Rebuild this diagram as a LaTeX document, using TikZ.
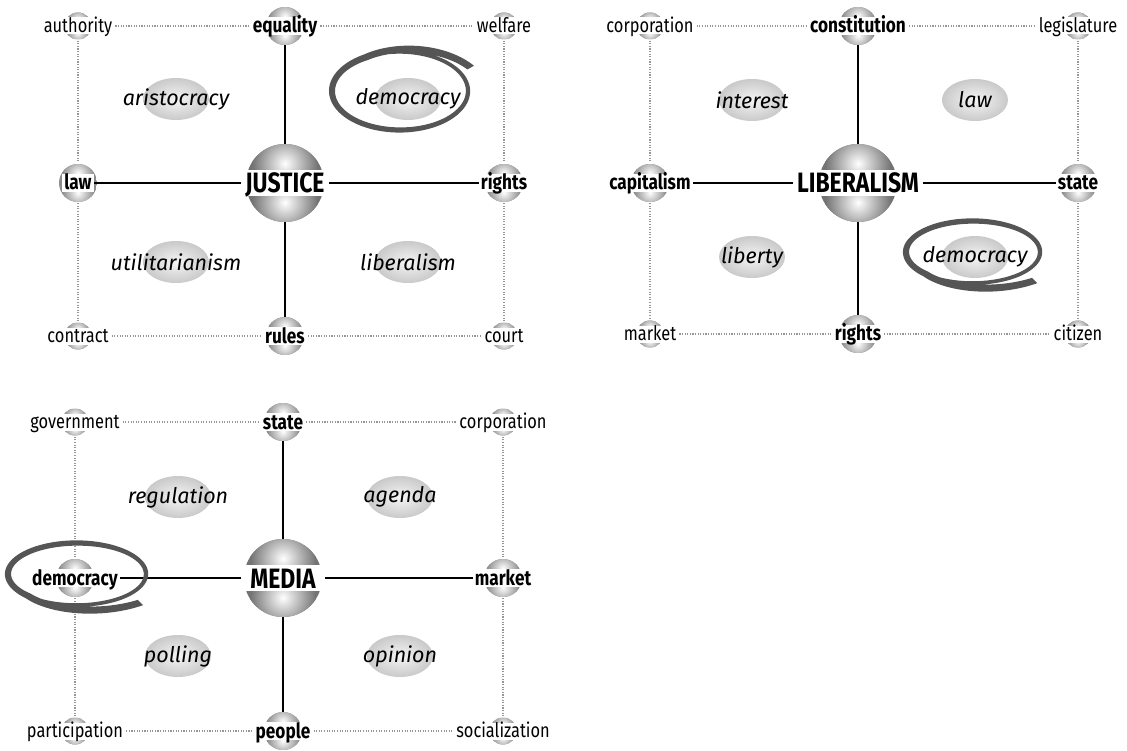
\documentclass[tikz,border=0pt]{standalone}
\usepackage{fontspec}
\setmainfont{Fira Sans}
\newfontfamily\narrowfont[FakeStretch=0.82]{Fira Sans}
\usetikzlibrary{calc, shapes.geometric}
\definecolor{hubrim}{RGB}{115,115,115}
\definecolor{knotrim}{RGB}{140,140,140}
\definecolor{ringgray}{RGB}{85,85,85}
\definecolor{dotgray}{RGB}{150,150,150}

\begin{document}
\begin{tikzpicture}[x=1pt, y=-1pt,
  orb/.style 2 args={circle, minimum size=#1, inner sep=0pt, path picture={
    \fill[#2] (path picture bounding box.south west) rectangle (path picture bounding box.north east);
    \begin{scope}
      \clip (path picture bounding box.west) rectangle (path picture bounding box.north east);
      \shade[inner color=white, outer color=#2] ($(path picture bounding box.center)!.5!(path picture bounding box.north)$) circle (.42*#1);
    \end{scope}
    \begin{scope}
      \clip (path picture bounding box.west) rectangle (path picture bounding box.south east);
      \shade[inner color=white, outer color=#2] ($(path picture bounding box.center)!.5!(path picture bounding box.south)$) circle (.42*#1);
    \end{scope}}},
  corner/.style={font=\narrowfont\fontsize{20}{20}\selectfont, fill=white, inner xsep=2pt, inner ysep=1pt, text height=14pt, text depth=1pt},
  edge/.style={font=\narrowfont\bfseries\fontsize{21}{21}\selectfont, fill=white, inner xsep=2pt, inner ysep=1pt, text height=15pt, text depth=1pt},
  hub/.style={font=\narrowfont\bfseries\fontsize{28}{28}\selectfont, fill=white, inner xsep=4pt, inner ysep=3pt, text height=20pt, text depth=0pt, minimum width=84pt},
  blob/.style={ellipse, shade, inner sep=0pt, minimum width=66pt, minimum height=42pt, inner color=gray!8, outer color=gray!42},
  quad/.style={font=\itshape\fontsize{21.5}{21.5}\selectfont, inner sep=0pt},
  spoke/.style={line width=1.3pt},
  rim/.style={dotgray, line width=1.1pt, dash pattern=on 1.1pt off 1.5pt, shorten <=1pt, shorten >=1pt},
  declare function={ringgrow(\t,\a,\g)=1+\g*max(0,(\a+90-\t)/90); ringwidth(\t,\a)=3+4.5*(\a+460-\t)/460;}
]
  \useasboundingbox (0,0) rectangle (1127,751);

  % JUSTICE
  \begin{scope}[shift={(285,183)}]
    \node[orb={27pt}{knotrim}] (j-nw-b) at (-207,-157) {};
    \node[orb={38pt}{knotrim}] (j-n-b)  at (0,-157) {};
    \node[orb={27pt}{knotrim}] (j-ne-b) at (219,-157) {};
    \node[orb={38pt}{knotrim}] (j-w-b)  at (-207,0) {};
    \node[orb={78pt}{hubrim}]  (j-c-b)  at (0,0) {};
    \node[orb={38pt}{knotrim}] (j-e-b)  at (219,0) {};
    \node[orb={27pt}{knotrim}] (j-sw-b) at (-207,153) {};
    \node[orb={38pt}{knotrim}] (j-s-b)  at (0,153) {};
    \node[orb={27pt}{knotrim}] (j-se-b) at (219,153) {};
    \node[corner] (j-nw) at (j-nw-b) {authority};
    \node[edge]   (j-n)  at (j-n-b)  {equality};
    \node[corner] (j-ne) at (j-ne-b) {welfare};
    \node[edge]   (j-w)  at (j-w-b)  {law};
    \node[hub]    (j-c)  at (j-c-b)  {JUSTICE};
    \node[edge]   (j-e)  at (j-e-b)  {rights};
    \node[corner] (j-sw) at (j-sw-b) {contract};
    \node[edge]   (j-s)  at (j-s-b)  {rules};
    \node[corner] (j-se) at (j-se-b) {court};
    \node[blob] (j-q1-b) at (-109,-84) {};
    \node[quad] (j-q1) at (j-q1-b) {aristocracy};
    \node[blob] (j-q2-b) at (123,-84) {};
    \node[quad] (j-q2) at (j-q2-b) {democracy};
    \node[blob] (j-q3-b) at (-109,79) {};
    \node[quad] (j-q3) at (j-q3-b) {utilitarianism};
    \node[blob] (j-q4-b) at (123,79) {};
    \node[quad] (j-q4) at (j-q4-b) {liberalism};
  \end{scope}

  % LIBERALISM
  \begin{scope}[shift={(858,183)}]
    \node[orb={27pt}{knotrim}] (l-nw-b) at (-208,-157) {};
    \node[orb={38pt}{knotrim}] (l-n-b)  at (0,-157) {};
    \node[orb={27pt}{knotrim}] (l-ne-b) at (220,-157) {};
    \node[orb={38pt}{knotrim}] (l-w-b)  at (-208,0) {};
    \node[orb={78pt}{hubrim}]  (l-c-b)  at (0,0) {};
    \node[orb={38pt}{knotrim}] (l-e-b)  at (220,0) {};
    \node[orb={27pt}{knotrim}] (l-sw-b) at (-208,151) {};
    \node[orb={38pt}{knotrim}] (l-s-b)  at (0,151) {};
    \node[orb={27pt}{knotrim}] (l-se-b) at (220,151) {};
    \node[corner] (l-nw) at (l-nw-b) {corporation};
    \node[edge]   (l-n)  at (l-n-b)  {constitution};
    \node[corner] (l-ne) at (l-ne-b) {legislature};
    \node[edge]   (l-w)  at (l-w-b)  {capitalism};
    \node[hub]    (l-c)  at (l-c-b)  {LIBERALISM};
    \node[edge]   (l-e)  at (l-e-b)  {state};
    \node[corner] (l-sw) at (l-sw-b) {market};
    \node[edge]   (l-s)  at (l-s-b)  {rights};
    \node[corner] (l-se) at (l-se-b) {citizen};
    \node[blob] (l-q1-b) at (-106,-83) {};
    \node[quad] (l-q1) at (l-q1-b) {interest};
    \node[blob] (l-q2-b) at (117,-83) {};
    \node[quad] (l-q2) at (l-q2-b) {law};
    \node[blob] (l-q3-b) at (-106,74) {};
    \node[quad] (l-q3) at (l-q3-b) {liberty};
    \node[blob] (l-q4-b) at (117,74) {};
    \node[quad] (l-q4) at (l-q4-b) {democracy};
  \end{scope}

  % MEDIA
  \begin{scope}[shift={(283,578)}]
    \node[orb={27pt}{knotrim}] (m-nw-b) at (-208,-156) {};
    \node[orb={38pt}{knotrim}] (m-n-b)  at (0,-156) {};
    \node[orb={27pt}{knotrim}] (m-ne-b) at (220,-156) {};
    \node[orb={38pt}{knotrim}] (m-w-b)  at (-208,0) {};
    \node[orb={78pt}{hubrim}]  (m-c-b)  at (0,0) {};
    \node[orb={38pt}{knotrim}] (m-e-b)  at (220,0) {};
    \node[orb={27pt}{knotrim}] (m-sw-b) at (-208,153) {};
    \node[orb={38pt}{knotrim}] (m-s-b)  at (0,153) {};
    \node[orb={27pt}{knotrim}] (m-se-b) at (220,153) {};
    \node[corner] (m-nw) at (m-nw-b) {government};
    \node[edge]   (m-n)  at (m-n-b)  {state};
    \node[corner] (m-ne) at (m-ne-b) {corporation};
    \node[edge]   (m-w)  at (m-w-b)  {democracy};
    \node[hub]    (m-c)  at (m-c-b)  {MEDIA};
    \node[edge]   (m-e)  at (m-e-b)  {market};
    \node[corner] (m-sw) at (m-sw-b) {participation};
    \node[edge]   (m-s)  at (m-s-b)  {people};
    \node[corner] (m-se) at (m-se-b) {socialization};
    \node[blob] (m-q1-b) at (-105,-81) {};
    \node[quad] (m-q1) at (m-q1-b) {regulation};
    \node[blob] (m-q2-b) at (117,-81) {};
    \node[quad] (m-q2) at (m-q2-b) {agenda};
    \node[blob] (m-q3-b) at (-105,78) {};
    \node[quad] (m-q3) at (m-q3-b) {polling};
    \node[blob] (m-q4-b) at (117,78) {};
    \node[quad] (m-q4) at (m-q4-b) {opinion};
  \end{scope}

  % connectors of all three maps
  \foreach \p in {j,l,m}{
    \foreach \a/\b in {nw/n, n/ne, sw/s, s/se} \draw[rim] (\p-\a) -- (\p-\b);
    \foreach \a/\b in {nw/w, w/sw, ne/e, e/se} \draw[rim] (\p-\a-b) -- (\p-\b-b);
    \foreach \a in {w,e} \draw[spoke] (\p-c) -- (\p-\a);
    \foreach \a in {n,s} \draw[spoke] (\p-c-b) -- (\p-\a-b);
  }

  % hand-drawn rings round democracy
  \foreach \cx/\cy/\rx/\ry/\sg/\ta/\gr in {400/91/68/39/-1/30/0.2, 973/252/67/31/1/45/0.3, 77/574/69/31/1/45/0.3}{
    \pgfmathsetmacro\tb{\ta+460}
    \fill[ringgray] plot[domain=\ta:\tb, samples=180, variable=\t]
      ({\cx+(\rx*ringgrow(\t,\ta,\gr)+ringwidth(\t,\ta)/2)*cos(\t)}, {\cy+(\sg)*(\ry*ringgrow(\t,\ta,\gr)+ringwidth(\t,\ta)/2)*sin(\t)})
      -- plot[domain=\tb:\ta, samples=180, variable=\t]
      ({\cx+(\rx*ringgrow(\t,\ta,\gr)-ringwidth(\t,\ta)/2)*cos(\t)}, {\cy+(\sg)*(\ry*ringgrow(\t,\ta,\gr)-ringwidth(\t,\ta)/2)*sin(\t)})
      -- cycle;
  }
\end{tikzpicture}
\end{document}
